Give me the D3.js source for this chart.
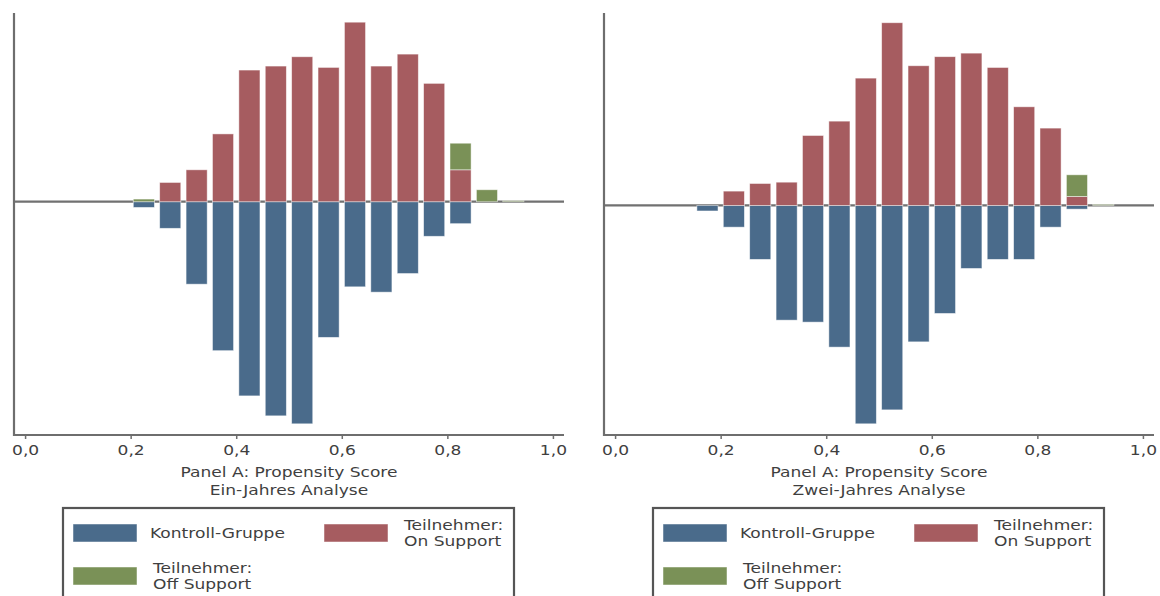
<!DOCTYPE html>
<html>
<head>
<meta charset="utf-8">
<script src="https://cdn.jsdelivr.net/npm/d3@7"></script>
<style>
  body { margin: 0; background: #fff; }
  svg { display: block; font-family: "DejaVu Sans", sans-serif; }
</style>
</head>
<body>
<svg id="chart" width="1160" height="596"></svg>
<script>
// bin starts of the propensity score histogram (bin width 0.05)
const binStarts = [0.15, 0.20, 0.25, 0.30, 0.35, 0.40, 0.45, 0.50, 0.55, 0.60, 0.65, 0.70, 0.75, 0.80, 0.85, 0.90];
const xTicks = [0, 0.2, 0.4, 0.6, 0.8, 1.0];

// share of each group per bin in %
const oneYearControl    = [0, 0.43, 2.0, 6.2, 11.2, 14.6, 16.1, 16.7, 10.2, 6.4, 6.8, 5.4, 2.6, 1.65, 0, 0];
const oneYearOnSupport  = [0, 0, 1.45, 2.4, 5.1, 9.9, 10.2, 10.9, 10.1, 13.5, 10.2, 11.1, 8.9, 2.4, 0, 0];
const oneYearOffSupport = [0, 0.2, 0, 0, 0, 0, 0, 0, 0, 0, 0, 0, 0, 2.0, 0.9, 0.08];

const twoYearControl    = [0.42, 1.65, 4.1, 8.72, 8.87, 10.77, 16.6, 15.54, 10.37, 8.21, 4.79, 4.1, 4.1, 1.65, 0.28, 0];
const twoYearOnSupport  = [0, 1.09, 1.67, 1.77, 5.32, 6.41, 9.68, 13.89, 10.62, 11.31, 11.58, 10.49, 7.5, 5.88, 0.68, 0];
const twoYearOffSupport = [0, 0, 0, 0, 0, 0, 0, 0, 0, 0, 0, 0, 0, 0, 1.65, 0.08];

const legendLabels = ["Kontroll-Gruppe", "Teilnehmer:\nOn Support", "Teilnehmer:\nOff Support"];

const colors = { control: "#4a6b8b", on: "#a65c60", off: "#7a9157" };
const binWidth = 0.05;
const barWidth = 0.04;
const stretch = 1.22; // the text in the picture is a bit wider than plain DejaVu

const fmt = d3.formatLocale({ decimal: ",", thousands: ".", grouping: [3], currency: ["", "€"] }).format(".1f");

const svg = d3.select("#chart");

const panels = [
  { left: 14, right: 564, yDomain: [-17.54, 14.19], label: "Ein-Jahres Analyse",
    control: oneYearControl, on: oneYearOnSupport, off: oneYearOffSupport },
  { left: 604, right: 1154, yDomain: [-17.45, 14.63], label: "Zwei-Jahres Analyse",
    control: twoYearControl, on: twoYearOnSupport, off: twoYearOffSupport },
];

const plotTop = 13, plotBottom = 435;

//helper to write stretched text at a point
function stretchedText(parent, x, y, anchor) {
  return parent.append("text")
    .attr("transform", `translate(${x},${y}) scale(${stretch},1)`)
    .attr("text-anchor", anchor)
    .attr("font-size", 14)
    .attr("fill", "#3f3f3f");
}

panels.forEach(p => {
  const x = d3.scaleLinear().domain([-0.021, 1.021]).range([p.left, p.right]);
  const y = d3.scaleLinear().domain(p.yDomain).range([plotBottom, plotTop]);

  const g = svg.append("g");

  // zero line behind the bars
  g.append("line")
    .attr("x1", p.left).attr("x2", p.right)
    .attr("y1", y(0)).attr("y2", y(0))
    .attr("stroke", "#717171").attr("stroke-width", 2.2);

  const rows = binStarts.map((b, i) => ({
    center: b + binWidth / 2,
    control: p.control[i],
    on: p.on[i],
    off: p.off[i],
  }));

  const bx = d => x(d.center - barWidth / 2);
  const bw = x(barWidth) - x(0);

  // Kontroll-Gruppe below zero
  g.selectAll("rect.control")
    .data(rows.filter(d => d.control > 0))
    .join("rect")
    .attr("class", "control")
    .attr("x", bx).attr("width", bw)
    .attr("y", y(0))
    .attr("height", d => y(-d.control) - y(0))
    .attr("fill", colors.control)
    .attr("stroke", "#fff").attr("stroke-opacity", 0.6).attr("stroke-width", 0.8);

  // on support above zero
  g.selectAll("rect.on")
    .data(rows.filter(d => d.on > 0))
    .join("rect")
    .attr("class", "on")
    .attr("x", bx).attr("width", bw)
    .attr("y", d => y(d.on))
    .attr("height", d => y(0) - y(d.on))
    .attr("fill", colors.on)
    .attr("stroke", "#fff").attr("stroke-opacity", 0.6).attr("stroke-width", 0.8);

  // off support stacked on top
  g.selectAll("rect.off")
    .data(rows.filter(d => d.off > 0))
    .join("rect")
    .attr("class", "off")
    .attr("x", bx).attr("width", bw)
    .attr("y", d => y(d.on + d.off))
    .attr("height", d => y(d.on) - y(d.on + d.off))
    .attr("fill", colors.off)
    .attr("stroke", "#fff").attr("stroke-opacity", 0.6).attr("stroke-width", 0.8);

  // left spine
  g.append("line")
    .attr("x1", p.left).attr("x2", p.left)
    .attr("y1", plotTop).attr("y2", plotBottom + 1)
    .attr("stroke", "#6e6e6e").attr("stroke-width", 2.2);

  // bottom axis
  const axis = g.append("g")
    .attr("transform", `translate(0,${plotBottom})`)
    .call(d3.axisBottom(x).tickValues(xTicks).tickFormat(fmt).tickSize(4).tickPadding(6));
  axis.select(".domain")
    .attr("d", `M${p.left},0H${p.right}`)
    .attr("stroke", "#6e6e6e").attr("stroke-width", 2.2);
  axis.selectAll(".tick line").attr("stroke", "#6e6e6e").attr("stroke-width", 1.5);
  axis.selectAll(".tick text")
    .attr("fill", "#3f3f3f")
    .attr("font-size", 14)
    .attr("font-family", "DejaVu Sans, sans-serif")
    .attr("transform", `scale(${stretch},1)`);

  const cx = (p.left + p.right) / 2;
  stretchedText(g, cx, 477, "middle").text("Panel A: Propensity Score");
  stretchedText(g, cx, 495, "middle").text(p.label);

  // legend box
  const lx = cx - 226;
  const lg = g.append("g").attr("transform", `translate(${lx},508)`);
  lg.append("rect")
    .attr("width", 451).attr("height", 110)
    .attr("fill", "#fff").attr("stroke", "#555").attr("stroke-width", 2.2);

  const items = [
    { label: legendLabels[0], color: colors.control, px: 10, py: 16 },
    { label: legendLabels[1], color: colors.on, px: 261, py: 16 },
    { label: legendLabels[2], color: colors.off, px: 10, py: 59 },
  ];
  items.forEach(it => {
    lg.append("rect")
      .attr("x", it.px).attr("y", it.py)
      .attr("width", 64).attr("height", 18)
      .attr("fill", it.color)
      .attr("stroke", "#fff").attr("stroke-opacity", 0.6).attr("stroke-width", 0.8);
    const lines = it.label.split("\n");
    if (lines.length === 1) {
      stretchedText(lg, it.px + 77, it.py + 14, "start").text(lines[0]);
    } else {
      lines.forEach((l, k) => {
        stretchedText(lg, it.px + 80, it.py + 6 + k * 16, "start").text(l);
      });
    }
  });
});
</script>
</body>
</html>
